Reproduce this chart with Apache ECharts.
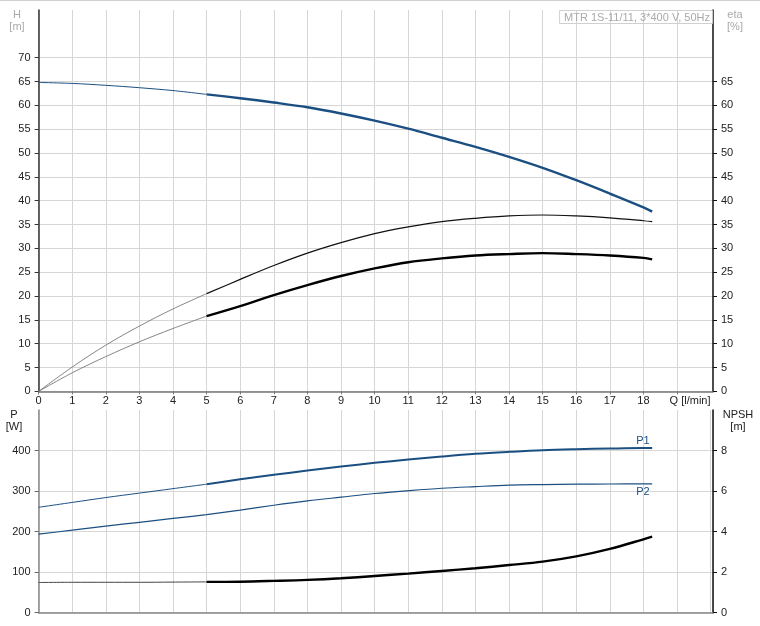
<!DOCTYPE html>
<html>
<head>
<meta charset="utf-8">
<script src="https://cdn.jsdelivr.net/npm/echarts@6/dist/echarts.min.js"></script>
<style>html,body{margin:0;padding:0;background:#fff}#c{width:760px;height:626px}</style>
</head>
<body>
<div id="c"></div>
<script>
// ---- data ----
const Q_THIN  = [0, 1, 2, 3, 4, 5];
const Q_THICK = [5, 6, 7, 8, 9, 10, 11, 12, 13, 14, 15, 16, 17, 18, 18.26];
const Q_ALL   = [0, 1, 2, 3, 4, 5, 6, 7, 8, 9, 10, 11, 12, 13, 14, 15, 16, 17, 18, 18.26];

const H_THIN  = [64.8, 64.6, 64.2, 63.7, 63.1, 62.3];
const H_THICK = [62.3, 61.5, 60.6, 59.6, 58.3, 56.8, 55.1, 53.2, 51.3, 49.2, 46.9, 44.3, 41.5, 38.6, 37.7];

const ETA1_THIN  = [0, 5.1, 9.7, 13.7, 17.3, 20.5];
const ETA1_THICK = [20.5, 23.5, 26.4, 29.0, 31.2, 33.1, 34.5, 35.6, 36.3, 36.8, 37.0, 36.8, 36.4, 35.8, 35.6];
const ETA2_THIN  = [0, 3.9, 7.3, 10.4, 13.2, 15.8];
const ETA2_THICK = [15.8, 17.9, 20.2, 22.3, 24.2, 25.8, 27.1, 27.9, 28.5, 28.8, 29.0, 28.8, 28.5, 28.0, 27.7];

const P1_THIN  = [260, 272, 284, 295, 306, 317];
const P1_THICK = [317, 329, 340, 350.6, 360.5, 369.6, 377.8, 385.2, 391.8, 396.8, 401, 403.4, 405, 406, 406];
const P2_ALL   = [193.6, 203.5, 213.5, 223, 232.5, 242, 253, 265, 275.8, 285, 294, 301, 307, 311, 314.5, 316, 317, 317.5, 317.8, 317.8];

const NPSH_THIN  = [1.49, 1.5, 1.5, 1.5, 1.51, 1.52];
const NPSH_THICK = [1.52, 1.53, 1.57, 1.62, 1.70, 1.81, 1.93, 2.06, 2.19, 2.35, 2.52, 2.78, 3.15, 3.62, 3.75];

const X_TICKS     = [0,1,2,3,4,5,6,7,8,9,10,11,12,13,14,15,16,17,18,19];
const X_NAME      = 'Q [l/min]';
const H_TICKS     = [0,5,10,15,20,25,30,35,40,45,50,55,60,65,70];
const ETA_TICKS   = [0,5,10,15,20,25,30,35,40,45,50,55,60,65];
const P_TICKS     = [0,100,200,300,400];
const NPSH_TICKS  = [0,2,4,6,8];
const TITLE_TEXT  = 'MTR 1S-11/11, 3*400 V, 50Hz';
const P1_NAME = 'P1';
const P2_NAME = 'P2';

const zip = (xs, ys) => xs.map((x, i) => [x, ys[i]]);

const FONT = 'Liberation Sans, Arial, sans-serif';
const BLUE = '#1b4f82';
const GRID = '#d6d6d6';
const lbl = { color: '#222', fontSize: 11, fontFamily: FONT };

const chart = echarts.init(document.getElementById('c'), null, { renderer: 'canvas' });

function lineSeries(data, xi, yi, color, width, extra) {
  return Object.assign({
    type: 'line', data, xAxisIndex: xi, yAxisIndex: yi, smooth: 0.35,
    symbol: 'none', silent: true,
    lineStyle: { color, width }
  }, extra || {});
}

const option = {
  animation: false,
  backgroundColor: '#fff',
  title: {
    text: TITLE_TEXT, right: 47, top: 10,
    borderColor: '#d0d0d0', borderWidth: 1, padding: [2, 3, 1, 5],
    textStyle: { color: '#aaa', fontSize: 11, fontWeight: 'normal', fontFamily: FONT }
  },
  graphic: [
    { type: 'line', shape: { x1: 0, y1: 0.5, x2: 760, y2: 0.5 }, style: { stroke: '#cfcfcf', lineWidth: 1 } },
    { type: 'text', x: 17, y: 9, style: { text: 'H\n[m]', fill: '#aaa', font: '11px ' + FONT, align: 'center', lineHeight: 12 } },
    { type: 'text', x: 735, y: 9, style: { text: 'eta\n[%]', fill: '#aaa', font: '11px ' + FONT, align: 'center', lineHeight: 12 } },
    { type: 'text', x: 14, y: 409, style: { text: 'P\n[W]', fill: '#222', font: '11px ' + FONT, align: 'center', lineHeight: 12 } },
    { type: 'text', x: 738, y: 409, style: { text: 'NPSH\n[m]', fill: '#222', font: '11px ' + FONT, align: 'center', lineHeight: 12 } }
  ],
  grid: [
    { left: 38.6, top: 10, width: 674.4, height: 381.4 },
    { left: 38.6, top: 410, width: 674.4, height: 202.7 }
  ],
  xAxis: [
    {
      type: 'value', gridIndex: 0, min: 0, max: 20.07, interval: 1,
      axisLine: { show: true, onZero: false, lineStyle: { color: '#777', width: 1.5 } },
      axisTick: { show: true, length: 3, customValues: X_TICKS, lineStyle: { color: '#777' } },
      axisLabel: Object.assign({}, lbl, {
        margin: 4, customValues: X_TICKS,
        formatter: v => v === 19 ? '{q|' + X_NAME + '}' : String(v),
        rich: { q: { padding: [0, 0, 0, 26], color: '#222', fontSize: 11, fontFamily: FONT } }
      }),
      splitLine: { show: true, lineStyle: { color: GRID, width: 1 } }
    },
    {
      type: 'value', gridIndex: 1, min: 0, max: 20.07, interval: 1,
      axisLine: { show: true, onZero: false, lineStyle: { color: '#888', width: 1.5 } },
      axisTick: { show: false },
      axisLabel: { show: false },
      splitLine: { show: true, lineStyle: { color: GRID, width: 1 } }
    }
  ],
  yAxis: [
    {
      type: 'value', gridIndex: 0, position: 'left', min: 0, max: 80, interval: 5,
      axisLine: { show: true, onZero: false, lineStyle: { color: '#333', width: 1.5 } },
      axisTick: { show: true, length: 4, customValues: H_TICKS, lineStyle: { color: '#333' } },
      axisLabel: Object.assign({}, lbl, { margin: 8, customValues: H_TICKS }),
      splitLine: { show: true, lineStyle: { color: GRID, width: 1 } }
    },
    {
      type: 'value', gridIndex: 0, position: 'right', min: 0, max: 80, interval: 5,
      axisLine: { show: true, onZero: false, lineStyle: { color: '#111', width: 1.5 } },
      axisTick: { show: true, length: 4, customValues: ETA_TICKS, lineStyle: { color: '#111' } },
      axisLabel: Object.assign({}, lbl, { margin: 8, customValues: ETA_TICKS }),
      splitLine: { show: false }
    },
    {
      type: 'value', gridIndex: 1, position: 'left', min: 0, max: 500, interval: 100,
      axisLine: { show: true, onZero: false, lineStyle: { color: '#888', width: 1.5 } },
      axisTick: { show: true, length: 4, customValues: P_TICKS, lineStyle: { color: '#666' } },
      axisLabel: Object.assign({}, lbl, { margin: 8, customValues: P_TICKS }),
      splitLine: { show: true, lineStyle: { color: GRID, width: 1 } }
    },
    {
      type: 'value', gridIndex: 1, position: 'right', min: 0, max: 10, interval: 2,
      axisLine: { show: true, onZero: false, lineStyle: { color: '#111', width: 1.5 } },
      axisTick: { show: true, length: 4, customValues: NPSH_TICKS, lineStyle: { color: '#111' } },
      axisLabel: Object.assign({}, lbl, { margin: 8, customValues: NPSH_TICKS }),
      splitLine: { show: false }
    }
  ],
  series: [
    lineSeries(zip(Q_THIN, ETA1_THIN), 0, 1, '#777', 0.9),
    lineSeries(zip(Q_THICK, ETA1_THICK), 0, 1, '#111', 1.2),
    lineSeries(zip(Q_THIN, ETA2_THIN), 0, 1, '#777', 0.9),
    lineSeries(zip(Q_THICK, ETA2_THICK), 0, 1, '#000', 2.4),
    lineSeries(zip(Q_THIN, H_THIN), 0, 0, BLUE, 1),
    lineSeries(zip(Q_THICK, H_THICK), 0, 0, BLUE, 2.4),
    lineSeries(zip(Q_THIN, NPSH_THIN), 1, 3, '#444', 1),
    lineSeries(zip(Q_THICK, NPSH_THICK), 1, 3, '#000', 2.4),
    lineSeries(zip(Q_ALL, P2_ALL), 1, 2, BLUE, 1.2, {
      endLabel: { show: true, formatter: P2_NAME, color: BLUE, fontSize: 11, fontFamily: FONT, offset: [-24, 8] }
    }),
    lineSeries(zip(Q_THIN, P1_THIN), 1, 2, BLUE, 1),
    lineSeries(zip(Q_THICK, P1_THICK), 1, 2, BLUE, 2, {
      endLabel: { show: true, formatter: P1_NAME, color: BLUE, fontSize: 11, fontFamily: FONT, offset: [-24, -7] }
    })
  ]
};
chart.setOption(option);
</script>
</body>
</html>
